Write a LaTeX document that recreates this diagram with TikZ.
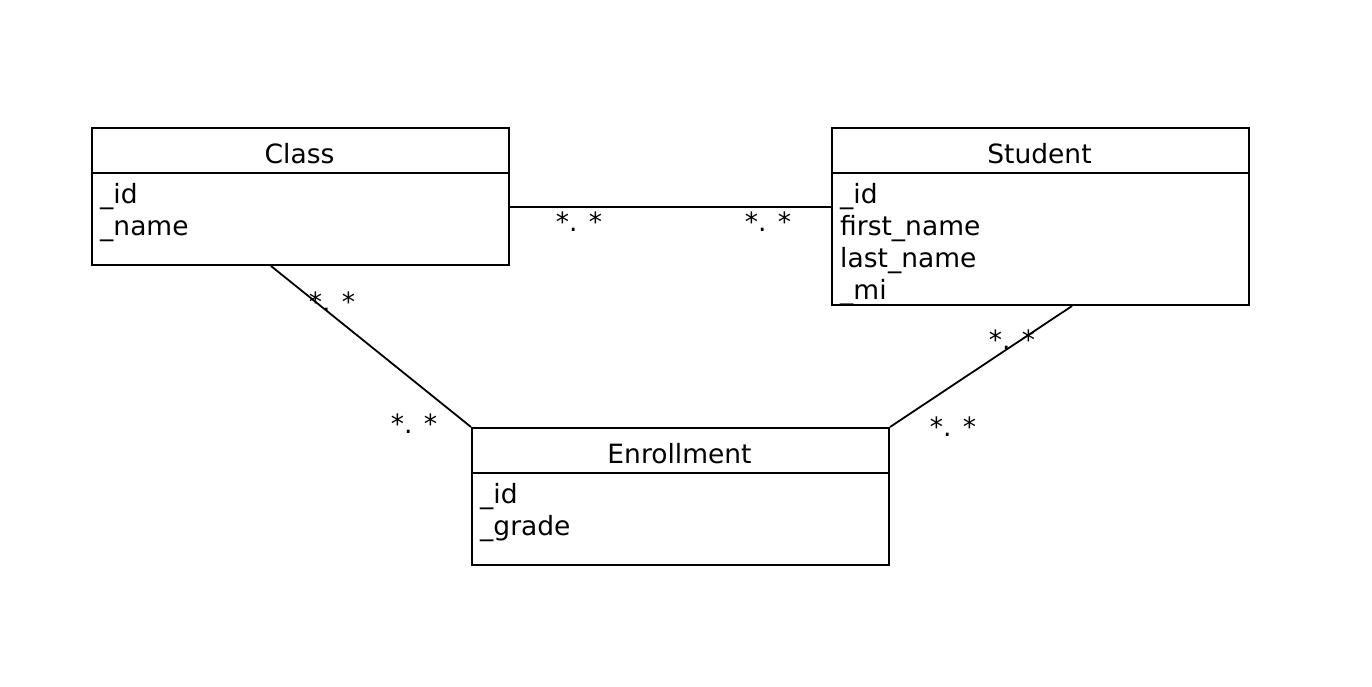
\documentclass[tikz,border=0pt]{standalone}
\usepackage{fontspec}
\setmainfont{DejaVu Sans}
\begin{document}
\begin{tikzpicture}[x=1pt,y=-1pt,
  box/.style={draw,line width=1.8pt,inner sep=0pt},
  title/.style={anchor=base,font=\fontsize{26.5}{30}\selectfont},
  attr/.style={anchor=base west,inner sep=0pt,font=\fontsize{26.5}{30}\selectfont},
  mult/.style={anchor=base,inner sep=0pt,font=\fontsize{26.5}{30}\selectfont},
  conn/.style={line width=1.8pt}]
\useasboundingbox[fill=white] (0,0) rectangle (1372,686);
% Class
\node[box,minimum width=417pt,minimum height=137pt,anchor=north west] (cls) at (91,127) {};
\draw[line width=1.8pt] (91,173) -- (508,173);
\node[title] (clsT) at (299.5,163) {Class};
\node[attr] (clsA1) at (100,203) {\_id};
\node[attr] (clsA2) at (100,235) {\_name};
% Student
\node[box,minimum width=417pt,minimum height=177pt,anchor=north west] (stu) at (831,127) {};
\draw[line width=1.8pt] (831,173) -- (1248,173);
\node[title] (stuT) at (1039.5,163) {Student};
\node[attr] (stuA1) at (840,203) {\_id};
\node[attr] (stuA2) at (840,235) {first\_name};
\node[attr] (stuA3) at (840,267) {last\_name};
\node[attr] (stuA4) at (840,299) {\_mi};
% Enrollment
\node[box,minimum width=417pt,minimum height=137pt,anchor=north west] (enr) at (471,427) {};
\draw[line width=1.8pt] (471,473) -- (888,473);
\node[title] (enrT) at (679.5,463) {Enrollment};
\node[attr] (enrA1) at (480,503) {\_id};
\node[attr] (enrA2) at (480,535) {\_grade};
% connector ends
\coordinate (c1) at (510,207);
\coordinate (s1) at (831,207);
\coordinate (c2) at (271,266);
\coordinate (e1) at (471,427);
\coordinate (s2) at (1072,306);
\coordinate (e2) at (890,427);
\draw[conn] (c1) -- (s1);
\draw[conn] (c2) -- (e1);
\draw[conn] (s2) -- (e2);
% multiplicities
\node[mult] (m1) at (579,231) {*. *};
\node[mult] (m2) at (768,231) {*. *};
\node[mult] (m3) at (332,311) {*. *};
\node[mult] (m4) at (414,433) {*. *};
\node[mult] (m5) at (1012,349) {*. *};
\node[mult] (m6) at (953,436) {*. *};
\end{tikzpicture}
\end{document}
